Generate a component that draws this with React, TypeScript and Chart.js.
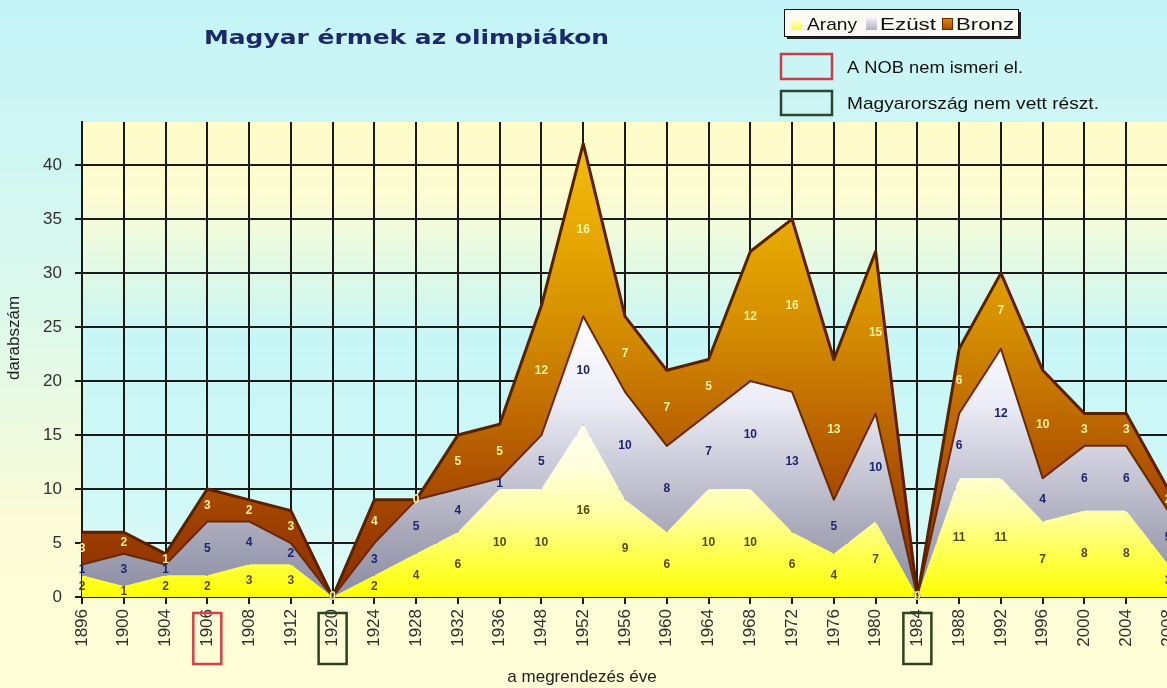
import React, { useEffect, useRef } from "react";
import { Chart, registerables } from "chart.js";

Chart.register(...registerables);

const years = ["1896","1900","1904","1906","1908","1912","1920","1924","1928","1932","1936","1948","1952","1956","1960","1964","1968","1972","1976","1980","1984","1988","1992","1996","2000","2004","2008"];
const gold = [2,1,2,2,3,3,0,2,4,6,10,10,16,9,6,10,10,6,4,7,0,11,11,7,8,8,3];
const silver = [1,3,1,5,4,2,0,3,5,4,1,5,10,10,8,7,10,13,5,10,0,6,12,4,6,6,5];
const bronze = [3,2,1,3,2,3,0,4,0,5,5,12,16,7,7,5,12,16,13,15,0,6,7,10,3,3,2];
const seriesNames = ["Arany", "Ezüst", "Bronz"];
const notRecognized = ["1906"];
const notParticipated = ["1920", "1984"];

const TITLE = "Magyar érmek az olimpiákon";
const Y_TITLE = "darabszám";
const X_TITLE = "a megrendezés éve";
const NOTE_RED = "A NOB nem ismeri el.";
const NOTE_GREEN = "Magyarország nem vett részt.";

const FONT = '"Liberation Sans", Arial, sans-serif';
const W = 1200;
const H = 688;
const YMAX = 44;

function vGrad(chart: any, stops: [number, string][]) {
  const { ctx, chartArea, scales } = chart;
  if (!chartArea || !scales.y) return "rgba(0,0,0,0)";
  const y = scales.y;
  const g = ctx.createLinearGradient(0, y.getPixelForValue(0), 0, y.getPixelForValue(YMAX));
  stops.forEach(([v, c]) => g.addColorStop(Math.min(1, v / YMAX), c));
  return g;
}

// Draw text scaled horizontally so that it spans exactly `width` pixels.
function scaledText(ctx: CanvasRenderingContext2D, text: string, x: number, y: number, width: number) {
  const w0 = ctx.measureText(text).width;
  const sx = width / w0;
  ctx.save();
  ctx.translate(x, y);
  ctx.scale(sx, 1);
  ctx.textAlign = "left";
  ctx.fillText(text, 0, 0);
  ctx.restore();
}

const decor = {
  id: "decor",
  beforeDraw(chart: any) {
    const { ctx, chartArea } = chart;
    ctx.save();
    const bg = ctx.createLinearGradient(0, 0, 0, H);
    bg.addColorStop(0, "#c4f4f8");
    bg.addColorStop(0.45, "#dcf8ec");
    bg.addColorStop(0.75, "#fbfcd8");
    bg.addColorStop(1, "#fffed6");
    ctx.fillStyle = bg;
    ctx.fillRect(0, 0, W, H);
    if (chartArea) {
      const pg = ctx.createLinearGradient(0, chartArea.top, 0, chartArea.bottom);
      pg.addColorStop(0, "#fffcc8");
      pg.addColorStop(0.15, "#fdfcd2");
      pg.addColorStop(0.45, "#c8f6f6");
      pg.addColorStop(0.8, "#cff8f6");
      pg.addColorStop(1, "#e6fcf6");
      ctx.fillStyle = pg;
      ctx.fillRect(chartArea.left, chartArea.top, chartArea.right - chartArea.left, chartArea.bottom - chartArea.top);
    }
    ctx.restore();
  },
  afterDatasetsDraw(chart: any) {
    const { ctx } = chart;
    const x = chart.scales.x;
    const y = chart.scales.y;
    ctx.save();
    ctx.font = `bold 12px ${FONT}`;
    ctx.textAlign = "center";
    ctx.textBaseline = "middle";
    years.forEach((_, i) => {
      const px = x.getPixelForValue(i);
      const g = gold[i];
      const s = silver[i];
      const b = bronze[i];
      const items: [number, number, string][] = [
        [g / 2, g, "#5a4a00"],
        [g + s / 2, s, "#1c2470"],
        [g + s + b / 2, b, "#fff2a0"],
      ];
      for (const [v, t, c] of items) {
        ctx.fillStyle = c;
        ctx.fillText(String(t), px, y.getPixelForValue(v));
      }
    });
    ctx.restore();
  },
  afterDraw(chart: any) {
    const { ctx } = chart;
    const x = chart.scales.x;
    ctx.save();
    ctx.textBaseline = "alphabetic";
    // Title
    ctx.fillStyle = "#1c2a6c";
    ctx.font = `bold 19px "DejaVu Sans", ${FONT}`;
    scaledText(ctx, TITLE, 204, 44, 405);

    // Legend box
    const lx = 784, ly = 9, lw = 234, lh = 27;
    ctx.fillStyle = "#222";
    ctx.fillRect(lx + 3, ly + 3, lw, lh);
    ctx.fillStyle = "#fbfbf4";
    ctx.fillRect(lx, ly, lw, lh);
    ctx.strokeStyle = "#111";
    ctx.lineWidth = 1;
    ctx.strokeRect(lx + 0.5, ly + 0.5, lw, lh);
    const sw = [
      { x: 791, c1: "#ffff40", c2: "#fffff0", t: seriesNames[0], tx: 807, tw: 50 },
      { x: 866, c1: "#b0b0c0", c2: "#f4eef4", t: seriesNames[1], tx: 880, tw: 56 },
      { x: 942, c1: "#a84000", c2: "#e49000", t: seriesNames[2], tx: 956, tw: 58 },
    ];
    ctx.font = `17px ${FONT}`;
    for (const s of sw) {
      const gg = ctx.createLinearGradient(0, 30, 0, 18);
      gg.addColorStop(0, s.c1);
      gg.addColorStop(1, s.c2);
      ctx.fillStyle = gg;
      ctx.fillRect(s.x, 18, 11, 12);
      if (s.t === seriesNames[2]) {
        ctx.strokeStyle = "#6a2a00";
        ctx.strokeRect(s.x + 0.5, 18.5, 10, 11);
      }
      ctx.fillStyle = "#111";
      scaledText(ctx, s.t, s.tx, 30, s.tw);
    }

    // Annotation key
    ctx.lineWidth = 2.5;
    ctx.strokeStyle = "#cc3c48";
    ctx.strokeRect(781, 54, 51, 25);
    ctx.strokeStyle = "#2c4632";
    ctx.strokeRect(781, 91, 51, 24);
    ctx.fillStyle = "#111";
    ctx.font = `17px ${FONT}`;
    scaledText(ctx, NOTE_RED, 847, 73, 176);
    scaledText(ctx, NOTE_GREEN, 847, 109, 252);

    // Boxes around tick labels
    years.forEach((yr, i) => {
      const red = notRecognized.includes(yr);
      const green = notParticipated.includes(yr);
      if (!red && !green) return;
      const px = x.getPixelForValue(i);
      ctx.strokeStyle = red ? "#d84048" : "#2c4420";
      ctx.lineWidth = 2.5;
      ctx.strokeRect(px - 14, 613, 28, 51);
    });

    // Axis titles
    ctx.fillStyle = "#222";
    ctx.font = `17px ${FONT}`;
    ctx.textAlign = "center";
    ctx.textBaseline = "middle";
    ctx.fillText(X_TITLE, 582, 677);
    ctx.translate(14, 338);
    ctx.rotate(-Math.PI / 2);
    ctx.fillText(Y_TITLE, 0, 0);
    ctx.restore();
  },
};

export default function App() {
  const ref = useRef<HTMLCanvasElement>(null);
  useEffect(() => {
    const canvas = ref.current;
    if (!canvas) return;
    const chart = new Chart(canvas, {
      type: "line",
      data: {
        labels: years,
        datasets: [
          {
            label: seriesNames[0],
            data: gold,
            fill: "origin",
            borderWidth: 0,
            borderColor: "rgba(0,0,0,0)",
            pointRadius: 0,
            tension: 0,
            backgroundColor: (c: any) =>
              vGrad(c.chart, [[0, "#ffff00"], [4, "#ffff50"], [8, "#ffffa8"], [12, "#ffffdc"], [17, "#fffff4"], [44, "#ffffff"]]),
          },
          {
            label: seriesNames[1],
            data: silver,
            fill: "-1",
            borderWidth: 2,
            borderColor: "#6a2800",
            pointRadius: 0,
            tension: 0,
            backgroundColor: (c: any) =>
              vGrad(c.chart, [[0, "#8c8ca2"], [6, "#a8a8ba"], [12, "#cacad8"], [18, "#ececf6"], [25, "#fcfcff"], [44, "#ffffff"]]),
          },
          {
            label: seriesNames[2],
            data: bronze,
            fill: "-1",
            borderWidth: 3,
            borderColor: "#5a2000",
            pointRadius: 0,
            tension: 0,
            backgroundColor: (c: any) =>
              vGrad(c.chart, [[0, "#8a2c00"], [8, "#a24400"], [16, "#bc6600"], [24, "#d28a00"], [32, "#e4a400"], [42, "#f2bc10"], [44, "#f2bc10"]]),
          },
        ],
      },
      options: {
        responsive: false,
        animation: false,
        devicePixelRatio: 1,
        layout: { padding: { top: 122, right: 32, left: 0, bottom: 0 } },
        plugins: {
          legend: { display: false },
          title: { display: false },
          tooltip: { enabled: false },
        },
        elements: { line: { borderJoinStyle: "round" } },
        scales: {
          x: {
            type: "category",
            offset: false,
            grid: { color: "#1a1a1a", lineWidth: 2, tickLength: 7, drawOnChartArea: true },
            border: { display: true, color: "#1a1a1a", width: 2 },
            ticks: {
              autoSkip: false,
              minRotation: 90,
              maxRotation: 90,
              padding: 5,
              color: "#303030",
              font: { family: FONT, size: 17 },
            },
            afterFit: (s: any) => {
              s.height = 91;
            },
          },
          y: {
            type: "linear",
            stacked: true,
            min: 0,
            max: YMAX,
            grid: { color: "#1a1a1a", lineWidth: 2, tickLength: 7 },
            border: { display: true, color: "#1a1a1a", width: 2 },
            ticks: {
              stepSize: 5,
              includeBounds: false,
              padding: 13,
              color: "#303030",
              font: { family: FONT, size: 17 },
            },
            afterFit: (s: any) => {
              s.width = 82;
            },
          },
        },
      },
      plugins: [decor],
    } as any);
    return () => chart.destroy();
  }, []);
  return (
    <div style={{ position: "fixed", left: 0, top: 0, width: 1167, height: 688, overflow: "hidden" }}>
      <canvas ref={ref} width={W} height={H} style={{ width: W, height: H, display: "block" }} />
    </div>
  );
}
